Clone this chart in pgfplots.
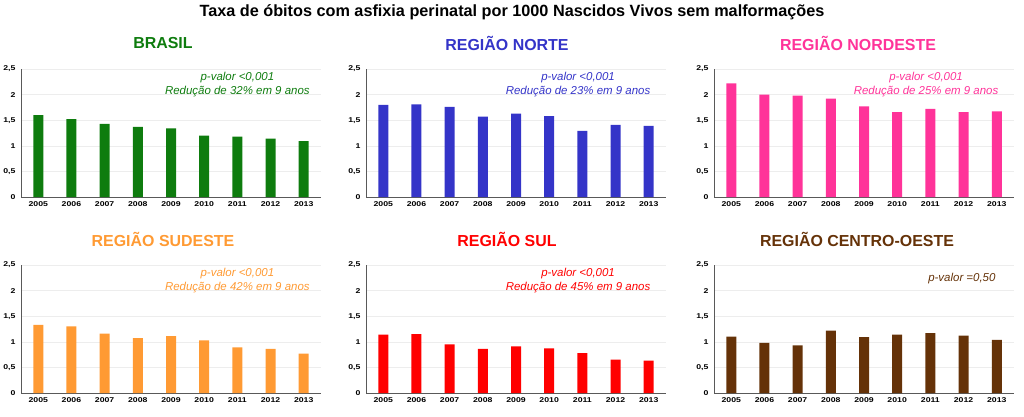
\documentclass[border=0pt]{standalone}
\usepackage{fontspec}
\setmainfont{Liberation Sans}
\newfontfamily\tickfont{Liberation Sans}[FakeStretch=1.25]
\usepackage{pgfplots}
\usepackage{pgfplotstable}
\pgfplotsset{compat=1.18}

\definecolor{cbrasil}{HTML}{0E7C0E}
\definecolor{cnorte}{HTML}{3434C8}
\definecolor{cnordeste}{HTML}{FF3399}
\definecolor{csudeste}{HTML}{FF9A33}
\definecolor{csul}{HTML}{FF0000}
\definecolor{ccentro}{HTML}{653208}

% taxa por 1000 nascidos vivos
\pgfplotstableread{
idx year brasil norte nordeste sudeste sul centro
0 2005 1.60 1.80 2.22 1.33 1.14 1.10
1 2006 1.52 1.81 2.00 1.30 1.15 0.98
2 2007 1.43 1.76 1.98 1.16 0.95 0.93
3 2008 1.37 1.57 1.92 1.07 0.86 1.22
4 2009 1.34 1.63 1.77 1.11 0.91 1.09
5 2010 1.20 1.58 1.66 1.03 0.87 1.14
6 2011 1.18 1.29 1.72 0.89 0.78 1.17
7 2012 1.14 1.41 1.66 0.86 0.65 1.12
8 2013 1.09 1.39 1.67 0.77 0.63 1.04
}\rates

\pgfplotsset{
  painel/.style={
    scale only axis, width=300bp, height=128bp, anchor=north west,
    xmin=-0.52, xmax=8.52, ymin=0, ymax=2.5,
    axis x line=bottom, axis y line=left,
    axis line style={-, draw=black!65, line width=0.9pt},
    major tick length=0pt,
    xtick={0,...,8},
    xticklabels from table={\rates}{year},
    ytick={0,0.5,1,1.5,2,2.5},
    yticklabels={0,{0,5},1,{1,5},2,{2,5}},
    ticklabel style={font=\tickfont\bfseries\fontsize{7}{8}\selectfont},
    xticklabel style={yshift=-1.5bp},
    yticklabel style={xshift=-2bp},
    ymajorgrids, grid style={black!7, line width=0.6pt},
  },
  barra/.style={ybar, bar width=10bp, draw=none, fill=#1},
}
\tikzset{nota/.style={font=\itshape\fontsize{11.5}{14}\selectfont, text=#1, align=center}}

\newcommand{\titulo}[3]{\node[font=\bfseries\fontsize{16}{16}\selectfont, text=#3] at (#1) {#2};}

\begin{document}
\begin{tikzpicture}
\path[use as bounding box] (0,0) rectangle (1024bp,-417bp);

\node[font=\bfseries\fontsize{16.3}{16}\selectfont] at (512bp,-12bp)
  {Taxa de óbitos com asfixia perinatal por 1000 Nascidos Vivos sem malformações};

\titulo{163bp,-43bp}{BRASIL}{cbrasil}
\titulo{507bp,-43bp}{REGIÃO NORTE}{cnorte}
\titulo{858bp,-43bp}{REGIÃO NORDESTE}{cnordeste}
\titulo{163bp,-239bp}{REGIÃO SUDESTE}{csudeste}
\titulo{507bp,-239bp}{REGIÃO SUL}{csul}
\titulo{857bp,-239bp}{REGIÃO CENTRO-OESTE}{ccentro}

\begin{axis}[painel, at={(21bp,-69bp)}]
\addplot[barra=cbrasil] table[x=idx, y=brasil]{\rates};
\node[nota=cbrasil] at (axis cs:6,2.19) {p-valor <0,001\\Redução de 32\% em 9 anos};
\end{axis}

\begin{axis}[painel, at={(366bp,-69bp)}]
\addplot[barra=cnorte] table[x=idx, y=norte]{\rates};
\node[nota=cnorte] at (axis cs:5.87,2.19) {p-valor <0,001\\Redução de 23\% em 9 anos};
\end{axis}

\begin{axis}[painel, at={(714bp,-69bp)}]
\addplot[barra=cnordeste] table[x=idx, y=nordeste]{\rates};
\node[nota=cnordeste] at (axis cs:5.87,2.19) {p-valor <0,001\\Redução de 25\% em 9 anos};
\end{axis}

\begin{axis}[painel, at={(21bp,-265bp)}]
\addplot[barra=csudeste] table[x=idx, y=sudeste]{\rates};
\node[nota=csudeste] at (axis cs:6,2.19) {p-valor <0,001\\Redução de 42\% em 9 anos};
\end{axis}

\begin{axis}[painel, at={(366bp,-265bp)}]
\addplot[barra=csul] table[x=idx, y=sul]{\rates};
\node[nota=csul] at (axis cs:5.87,2.19) {p-valor <0,001\\Redução de 45\% em 9 anos};
\end{axis}

\begin{axis}[painel, at={(714bp,-265bp)}]
\addplot[barra=ccentro] table[x=idx, y=centro]{\rates};
\node[nota=ccentro] at (axis cs:6.95,2.23) {p-valor =0,50};
\end{axis}
\end{tikzpicture}
\end{document}
